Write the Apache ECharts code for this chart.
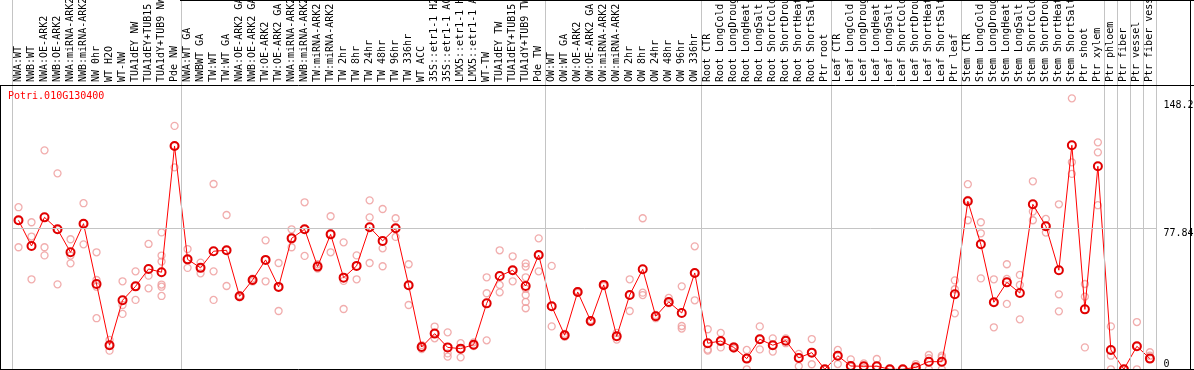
<!DOCTYPE html>
<html><head><meta charset="utf-8">
<script src="https://cdn.jsdelivr.net/npm/echarts@6/dist/echarts.min.js"></script>
<style>html,body{margin:0;padding:0;background:#fff}#c{width:1194px;height:370px}</style>
</head><body><div id="c"></div>
<script>
const categories = [
  "NWA:WT","NWB:WT","NWA:OE-ARK2","NWB:OE-ARK2","NWA:miRNA-ARK2","NWB:miRNA-ARK2","NW 0hr","WT H2O","WT-NW","TUA1dEY NW","TUA1dEY+TUB15 NW","TUA1dY+TUB9 NW","Pde NW",
  "NWA:WT GA","NWBWT GA","TW:WT","TW:WT GA","NWA:OE-ARK2 GA","NWB:OE-ARK2 GA","TW:OE-ARK2","TW:OE-ARK2 GA","NWA:miRNA-ARK2 GA","NWB:miRNA-ARK2 GA","TW:miRNA-ARK2","TW:miRNA-ARK2 GA","TW 2hr","TW 8hr","TW 24hr","TW 48hr","TW 96hr","TW 336hr","WT ACC","35S::etr1-1 H2O","35S::etr1-1 ACC","LMX5::etr1-1 H2O","LMX5::etr1-1 ACC","WT-TW","TUA1dEY TW","TUA1dEY+TUB15 TW","TUA1dY+TUB9 TW","Pde TW",
  "OW:WT","OW:WT GA","OW:OE-ARK2","OW:OE-ARK2 GA","OW:miRNA-ARK2","OW:miRNA-ARK2 GA","OW 2hr","OW 8hr","OW 24hr","OW 48hr","OW 96hr","OW 336hr",
  "Root CTR","Root LongCold","Root LongDrought","Root LongHeat","Root LongSalt","Root ShortCold","Root ShortDrought","Root ShortHeat","Root ShortSalt","Ptr root",
  "Leaf CTR","Leaf LongCold","Leaf LongDrought","Leaf LongHeat","Leaf LongSalt","Leaf ShortCold","Leaf ShortDrought","Leaf ShortHeat","Leaf ShortSalt","Ptr leaf",
  "Stem CTR","Stem LongCold","Stem LongDrought","Stem LongHeat","Stem LongSalt","Stem ShortCold","Stem ShortDrought","Stem ShortHeat","Stem ShortSalt","Ptr shoot","Ptr xylem",
  "Ptr phloem","Ptr fiber","Ptr vessel","Ptr fiber vessel"
];
const groupSizes = [13, 28, 12, 10, 10, 11, 1, 1, 1, 1];
const means = [
  82.3,68.1,83.9,77.3,64.6,80.4,47.1,13.3,38.1,45.8,55.4,53.6,123.3,
  60.7,56.0,65.2,65.7,40.3,49.3,60.4,45.5,72.3,77.3,56.7,74.5,50.6,57.1,78.4,70.9,77.9,46.4,12.3,19.7,12.1,11.4,13.6,36.4,51.5,54.7,46.0,63.1,
  34.8,18.8,42.7,26.7,46.6,18.2,41.0,55.2,29.3,37.2,31.1,53.2,
  14.4,15.6,12.1,5.9,16.6,13.3,15.8,6.3,9.2,0,
  7.5,1.8,1.7,1.7,0,0,1.1,4.2,4.2,41.4,
  92.8,69.0,37.0,48.0,42.1,91.1,79.0,54.7,123.7,33.1,112.1,
  10.7,0,12.7,5.9
];
const replicates = [
  [89.5,67.4,82.3],[81.2,73.3,49.7],[120.9,67.4,62.9],[108.2,46.9,77.3],[71.8,62.8,58.5],[91.7,69.0,80.4],[64.6,49.3,45.6,28.2],[16.2,10.3,13.3],[48.6,35.5,30.6],[54.1,38.3,45.8],[69.2,51.7,44.7],[75.6,62.8,59.5,46.8,45.6,40.5],[134.4,111.5,123.3],
  [66.4,56.0,60.7],[58.9,53.0,56.0],[102.3,54.1,38.3],[85.2,46.0,65.7],[40.3,40.8,39.8],[50.1,48.5,49.3],[71.2,48.6,60.4],[58.7,32.2,45.5],[77.3,67.4,72.3],[92.2,62.6,77.3],[58.0,55.6,56.7],[84.5,64.6,74.5],[70.1,48.8,33.3],[62.9,49.7,57.1],[93.3,83.9,58.7],[88.5,66.8,56.9],[83.4,73.1,77.9],[58.0,35.5,46.4],[13.4,11.2,12.3],[23.6,17.1,19.7],[20.4,8.8,7.0],[14.4,6.6,11.4],[14.9,12.8,13.6],[50.8,42.0,16.0],[65.7,46.6,42.5],[62.4,48.6,54.7],[58.5,56.7,50.8,44.5,41.0,37.2,33.7],[72.3,54.1,63.1],
  [57.1,23.7,34.8],[18.8,18.0,19.6],[43.2,42.2,42.7],[27.2,26.0,26.7],[47.0,46.0,46.6],[20.1,16.4,18.2],[49.7,32.2,41.0],[83.4,42.3,41.0],[28.2,30.0,29.3],[39.4,36.5,37.2],[45.8,23.9,22.5],[67.9,38.1,53.2],
  [22.1,10.9,10.3],[20.1,12.1,15.6],[12.8,11.4,12.1],[10.7,0,5.9],[23.7,11.0,16.6],[17.1,9.8,13.3],[17.1,14.4,15.8],[8.5,1.7,6.3],[16.7,2.8,9.2],[0,0,0],
  [10.7,2.9,7.5],[5.5,1.5,1.8],[3.3,0.6,1.7],[5.7,1.7,0],[0,0,0],[0,0,0],[2.9,0,1.1],[7.9,6.1,0],[7.5,6.6,0],[49.1,44.2,30.9],
  [102.2,93.5,82.3],[81.2,75.1,50.2],[49.7,23.2,37.0],[58.0,49.9,36.1],[52.1,46.6,27.6],[103.8,87.1,82.3],[83.0,75.5,79.0],[91.1,41.4,32.0],[149.6,114.3,107.9],[47.1,40.1,12.1],[125.3,119.8,90.6],
  [23.7,7.5,0],[0,0,0],[26.1,0,12.7],[9.4,7.5,5.9]
];
const yTickLabels = [77.84, 148.2];
const yZeroLabel = [0];
const geneTitle = "Potri.010G130400";

const FONT = "'DejaVu Sans Mono', monospace";
const boundaries = [0];
groupSizes.forEach(s => boundaries.push(boundaries[boundaries.length - 1] + s));
const repData = [];
replicates.forEach((arr, i) => arr.forEach(v => repData.push([i, v])));

const chart = echarts.init(document.getElementById('c'), null, {renderer: 'canvas'});
const yMax = 203.9;
chart.setOption({
  animation: false,
  backgroundColor: '#ffffff',
  title: {text: geneTitle, left: 8, top: 91, padding: 0,
    textStyle: {color: '#ff0000', fontSize: 10, fontFamily: FONT, fontWeight: 'normal'}},
  grid: {left: 12, right: 37.6, top: 0, bottom: 0.7, containLabel: false, outerBoundsMode: 'none'},
  xAxis: [
    {type: 'category', data: categories, position: 'top', offset: -85, boundaryGap: true,
      axisLine: {show: false}, axisTick: {show: false}, splitLine: {show: false},
      axisLabel: {rotate: 90, interval: 0, margin: 3, fontSize: 10, fontFamily: FONT, color: '#000'}},
    {type: 'value', min: 0, max: categories.length, show: false}
  ],
  yAxis: [
    {type: 'value', min: 0, max: yMax, position: 'right',
      axisLine: {show: false}, axisTick: {show: false}, splitLine: {show: false},
      axisLabel: {customValues: yTickLabels, verticalAlign: 'top', margin: 7, fontSize: 10, fontFamily: FONT, color: '#000',
        formatter: v => String(v)}},
    {type: 'value', min: 0, max: yMax, position: 'right',
      axisLine: {show: false}, axisTick: {show: false}, splitLine: {show: false},
      axisLabel: {customValues: yZeroLabel, verticalAlign: 'bottom', margin: 7, fontSize: 10, fontFamily: FONT, color: '#000',
        formatter: v => String(v)}}
  ],
  series: [
    {type: 'line', xAxisIndex: 1, yAxisIndex: 0, data: [[0, -50]], symbol: 'none', silent: true, z: 1,
      lineStyle: {opacity: 0},
      markLine: {silent: true, symbol: ['none', 'none'], label: {show: false},
        lineStyle: {color: '#c4c4c4', width: 1, type: 'solid'},
        data: boundaries.map(b => ({xAxis: b}))}},
    {type: 'scatter', xAxisIndex: 0, yAxisIndex: 0, data: repData, symbol: 'circle', symbolSize: 7, z: 2,
      itemStyle: {color: 'transparent', borderColor: '#ee9999', borderWidth: 1.3}},
    {type: 'line', xAxisIndex: 0, yAxisIndex: 0, data: means, symbol: 'circle', symbolSize: 8, showAllSymbol: true, z: 3,
      lineStyle: {color: '#ff0000', width: 1},
      itemStyle: {color: 'transparent', borderColor: '#e00000', borderWidth: 2},
      markLine: {silent: true, symbol: ['none', 'none'], label: {show: false},
        lineStyle: {color: '#c4c4c4', width: 1, type: 'solid'},
        data: [{yAxis: yTickLabels[0]}]}}
  ],
  graphic: [
    {type: 'line', shape: {x1: 0, y1: 85.5, x2: 1194, y2: 85.5}, style: {stroke: '#000', lineWidth: 1}, z: 10},
    {type: 'line', shape: {x1: 180, y1: 0.5, x2: 1194, y2: 0.5}, style: {stroke: '#000', lineWidth: 1}, z: 10},
    {type: 'line', shape: {x1: 0.5, y1: 85, x2: 0.5, y2: 370}, style: {stroke: '#000', lineWidth: 1}, z: 10},
    {type: 'line', shape: {x1: 0, y1: 369.5, x2: 1194, y2: 369.5}, style: {stroke: '#000', lineWidth: 1}, z: 10},
    {type: 'line', shape: {x1: 1190.5, y1: 0, x2: 1190.5, y2: 370}, style: {stroke: '#000', lineWidth: 1}, z: 10}
  ]
});
</script></body></html>
